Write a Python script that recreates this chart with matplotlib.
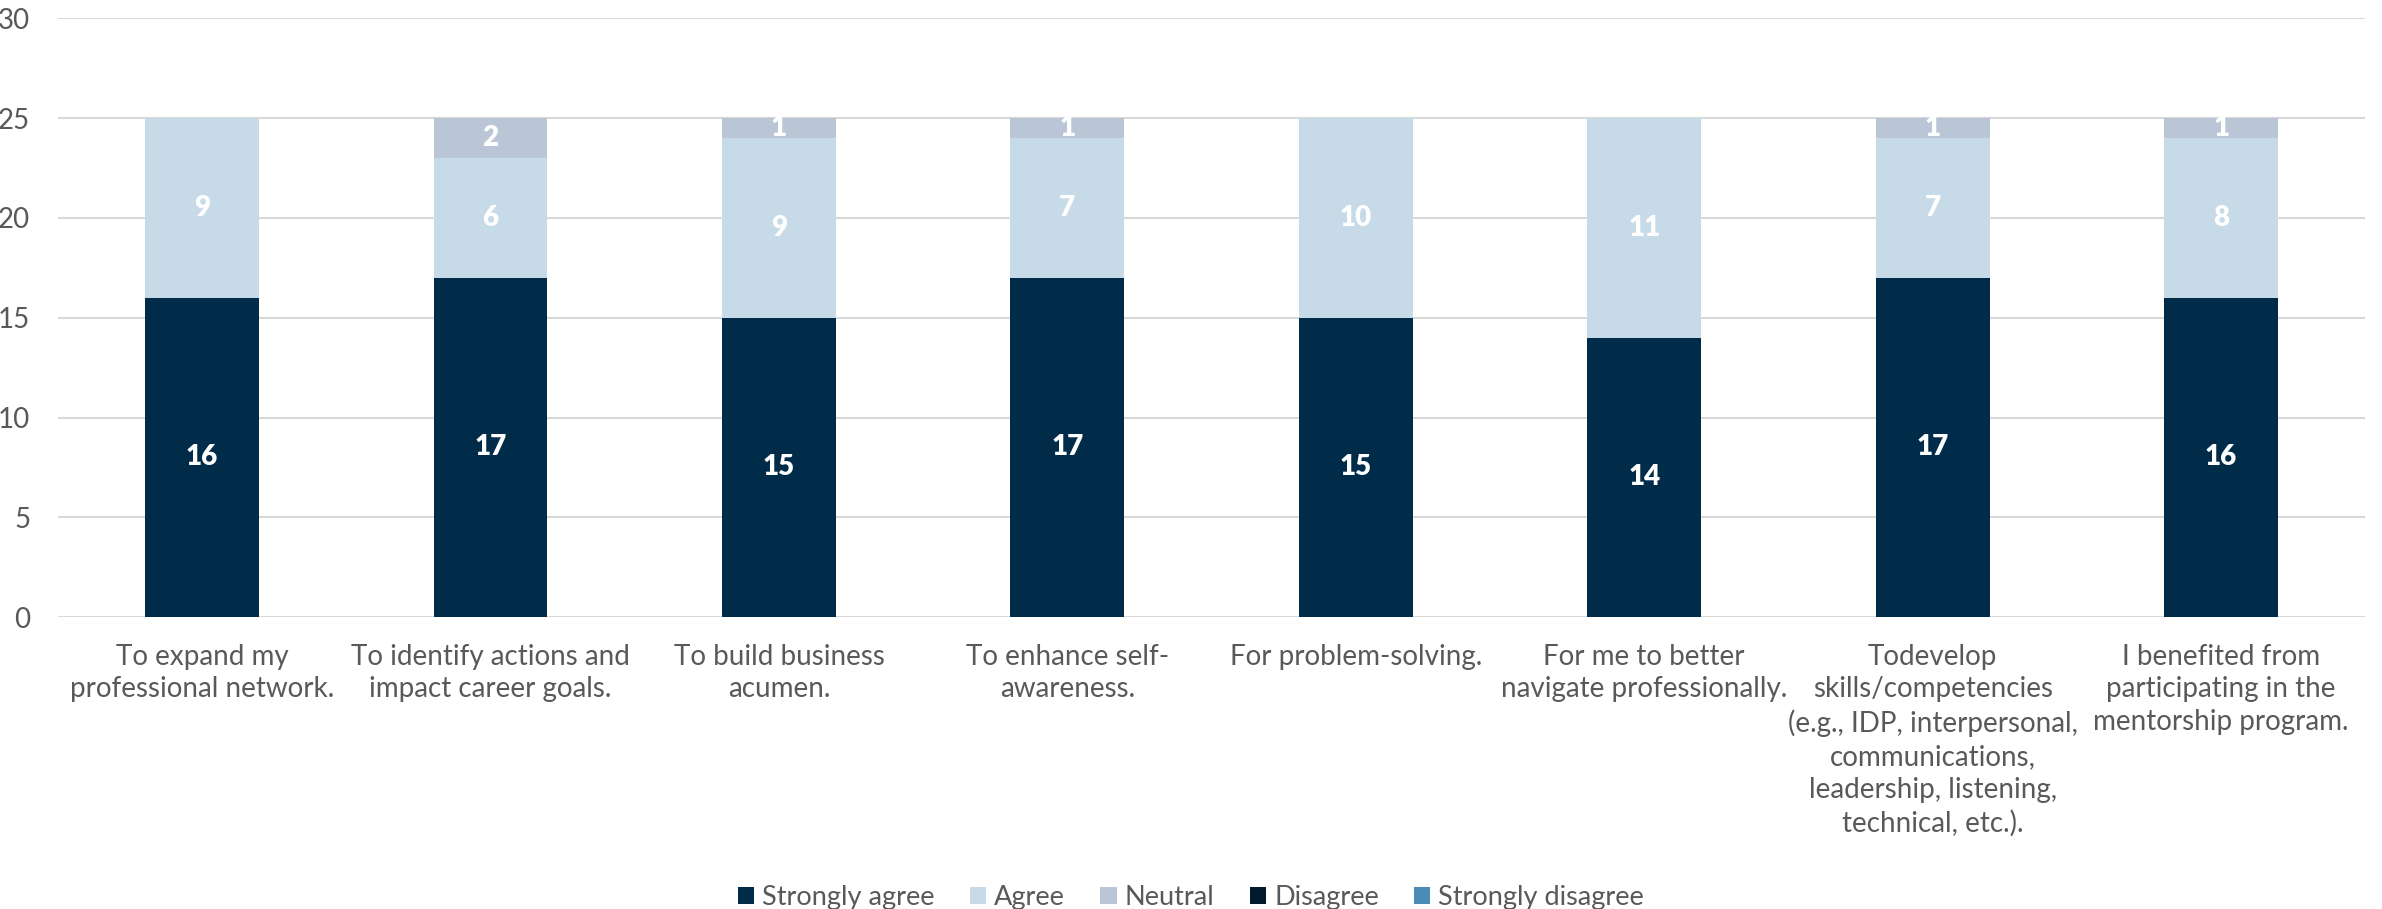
import matplotlib.pyplot as plt
import numpy as np

plt.rcParams['font.family'] = ['Lato', 'DejaVu Sans']

categories = [
    "To expand my\nprofessional network.",
    "To identify actions and\nimpact career goals.",
    "To build business\nacumen.",
    "To enhance self-\nawareness.",
    "For problem-solving.",
    "For me to better\nnavigate professionally.",
    "Todevelop\nskills/competencies\n(e.g., IDP, interpersonal,\ncommunications,\nleadership, listening,\ntechnical, etc.).",
    "I benefited from\nparticipating in the\nmentorship program.",
]
strongly_agree = [16, 17, 15, 17, 15, 14, 17, 16]
agree = [9, 6, 9, 7, 10, 11, 7, 8]
neutral = [0, 2, 1, 1, 0, 0, 1, 1]
disagree = [0, 0, 0, 0, 0, 0, 0, 0]
strongly_disagree = [0, 0, 0, 0, 0, 0, 0, 0]

series = [
    ("Strongly agree", strongly_agree, "#002B49"),
    ("Agree", agree, "#C6DAE7"),
    ("Neutral", neutral, "#BAC6D6"),
    ("Disagree", disagree, "#011A2E"),
    ("Strongly disagree", strongly_disagree, "#4A8BB8"),
]

fig = plt.figure(figsize=(23.82, 9.09), dpi=100)
ax = fig.add_axes([0.0243, 0.321, 0.9687, 0.659])

x = np.arange(len(categories))
bottom = np.zeros(len(categories))
for name, vals, color in series:
    vals = np.array(vals, dtype=float)
    bars = ax.bar(x, vals, 0.395, bottom=bottom, color=color, label=name, zorder=3)
    for b, v, y0 in zip(bars, vals, bottom):
        if v > 0:
            ax.text(b.get_x() + b.get_width() / 2, y0 + v / 2, f"{int(v)}",
                    ha='center', va='center', color='white', fontsize=20,
                    fontweight='heavy', zorder=4)
    bottom += vals

ax.set_xlim(-0.5, len(categories) - 0.5)
ax.set_ylim(0, 30)
ax.set_yticks(range(0, 31, 5))
ax.yaxis.grid(True, color='#D9D9D9', linewidth=1.5, zorder=0)
for s in ax.spines.values():
    s.set_visible(False)
ax.tick_params(axis='both', length=0, labelsize=20, colors='#595959')
ax.tick_params(axis='y', pad=20)
ax.set_xticks(x)
ax.set_xticklabels(categories, linespacing=1.32, va='top')
ax.tick_params(axis='x', pad=19)

fig.legend(loc='lower center', ncol=5, frameon=False, fontsize=19.5,
           bbox_to_anchor=(0.5, -0.028), handlelength=0.6, handleheight=0.6,
           handletextpad=0.3, columnspacing=1.3, labelcolor='#595959')

fig.savefig("out.png", dpi=100)
